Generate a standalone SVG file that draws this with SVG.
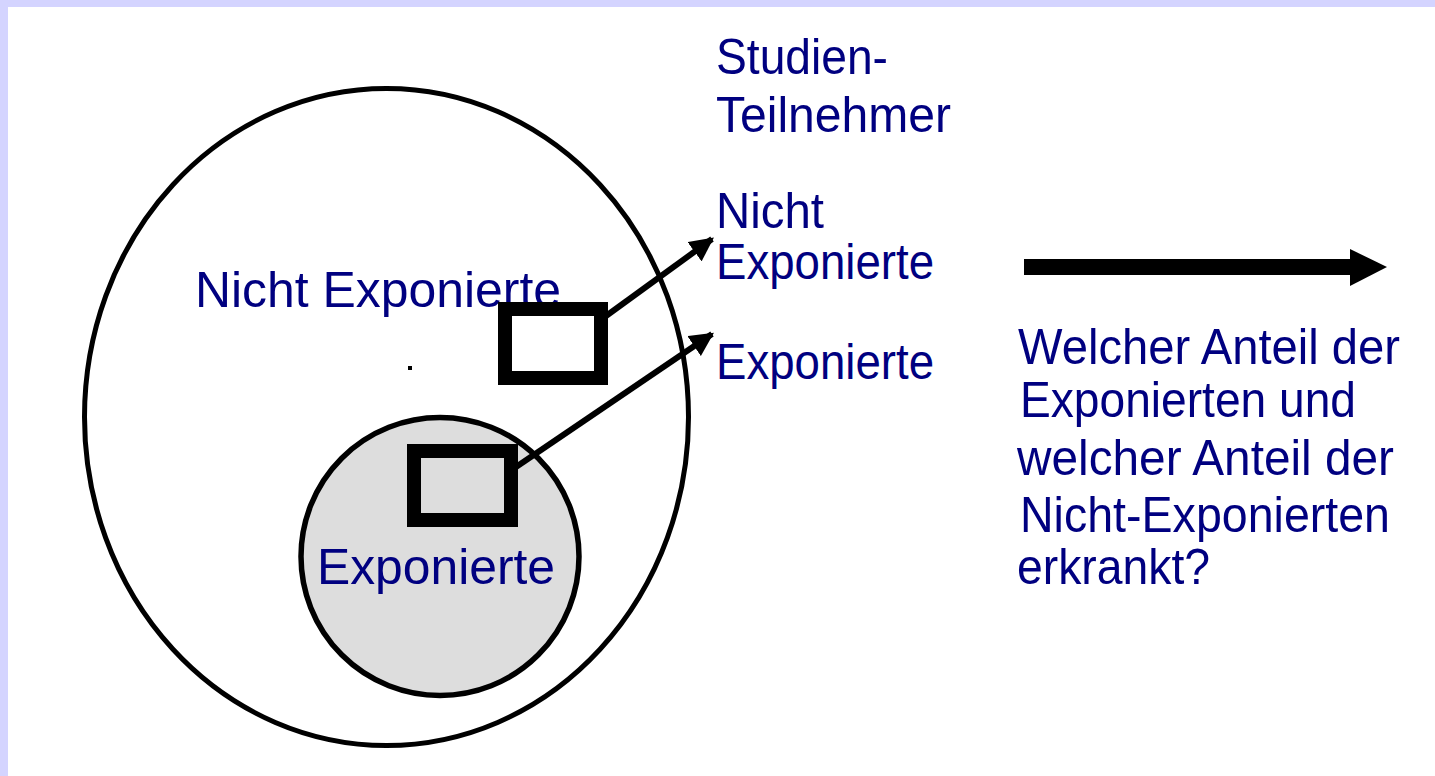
<svg xmlns="http://www.w3.org/2000/svg" width="1435" height="776" viewBox="0 0 1435 776">
<style>
text{font-family:"Liberation Sans",Arial,sans-serif;font-size:50px;fill:#000080}
.ln{stroke:#000;stroke-width:6;fill:none}
.box{stroke:#000;stroke-width:14}
</style>
<defs>
<marker id="ah" viewBox="0 0 10 10" refX="9" refY="5" markerWidth="4" markerHeight="4" markerUnits="strokeWidth" orient="auto">
<path d="M0,0 L10,5 L0,10 Z" fill="#000"/>
</marker>
</defs>
<rect x="0" y="0" width="1435" height="776" fill="#fff"/>
<rect x="0" y="0" width="1435" height="7" fill="#d4d4ff"/>
<rect x="0" y="0" width="8" height="776" fill="#d4d4ff"/>
<g id="studienteilnehmer">
<ellipse cx="386.5" cy="417" rx="302" ry="328.5" fill="none" stroke="#000" stroke-width="5"/>
<rect x="408" y="366" width="4" height="4" fill="#000"/>
<text x="195" y="307" textLength="366" lengthAdjust="spacingAndGlyphs">Nicht Exponierte</text>
</g>
<g id="exponierte">
<circle cx="440" cy="556.5" r="139" fill="#dddddd" stroke="#000" stroke-width="5.5"/>
<text x="317" y="584" textLength="238" lengthAdjust="spacingAndGlyphs">Exponierte</text>
</g>
<g id="box-nicht-exponierte">
<rect class="box" x="505" y="309" width="96" height="69" fill="#fff"/>
</g>
<g id="box-exponierte">
<rect class="box" x="414" y="451" width="97" height="69" fill="#dddddd"/>
</g>
<g id="connectors">
<line class="ln" x1="606" y1="316" x2="712" y2="239" marker-end="url(#ah)"/>
<line class="ln" x1="516" y1="467" x2="712" y2="334" marker-end="url(#ah)"/>
<line x1="1024" y1="267" x2="1352" y2="267" stroke="#000" stroke-width="16"/>
<polygon points="1350,249 1387,267 1350,286" fill="#000"/>
</g>
<g id="labels">
<text x="716" y="74" textLength="172" lengthAdjust="spacingAndGlyphs">Studien-</text>
<text x="716" y="132" textLength="235" lengthAdjust="spacingAndGlyphs">Teilnehmer</text>
<text x="716" y="228" textLength="108" lengthAdjust="spacingAndGlyphs">Nicht</text>
<text x="716" y="279" textLength="218" lengthAdjust="spacingAndGlyphs">Exponierte</text>
<text x="716" y="379" textLength="218" lengthAdjust="spacingAndGlyphs">Exponierte</text>
</g>
<g id="question">
<text x="1018" y="364" textLength="382" lengthAdjust="spacingAndGlyphs">Welcher Anteil der</text>
<text x="1020" y="417" textLength="336" lengthAdjust="spacingAndGlyphs">Exponierten und</text>
<text x="1017" y="475" textLength="377" lengthAdjust="spacingAndGlyphs">welcher Anteil der</text>
<text x="1020" y="532" textLength="370" lengthAdjust="spacingAndGlyphs">Nicht-Exponierten</text>
<text x="1017" y="584" textLength="193" lengthAdjust="spacingAndGlyphs">erkrankt?</text>
</g>
</svg>
